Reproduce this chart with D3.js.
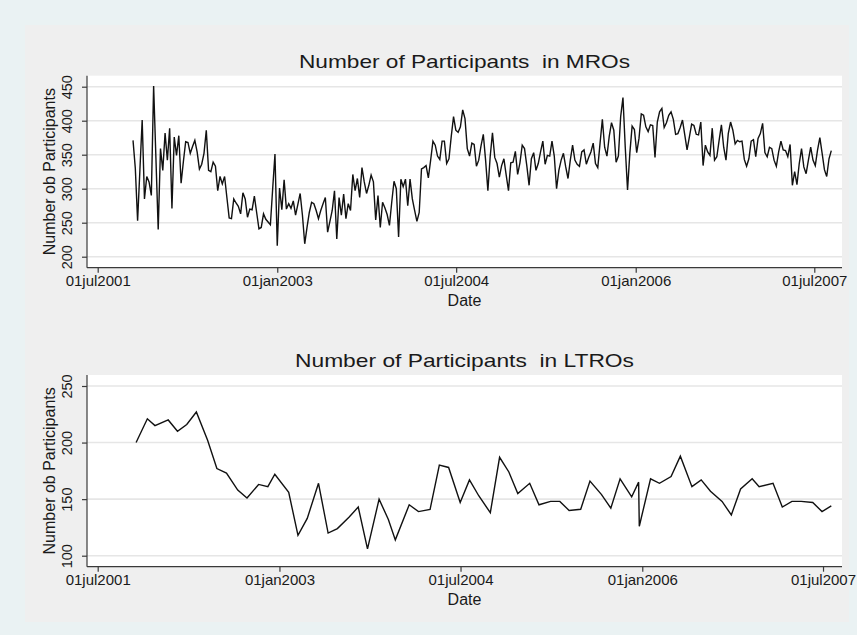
<!DOCTYPE html>
<html>
<head>
<meta charset="utf-8">
<script src="https://cdn.jsdelivr.net/npm/d3@7"></script>
<style>
  html, body { margin: 0; padding: 0; background: #ffffff; }
  svg { display: block; font-family: "Liberation Sans", Arial, Helvetica, sans-serif; }
  text { white-space: pre; }
</style>
</head>
<body>
<svg id="chart" width="857" height="635"></svg>
<script>
// Weekly main refinancing operations: number of bidders, one value per week
const mroFirstDate = "2001-10-17";
const mroValues = [
  371,330,253,327,401,285,318,310,290,451, 345,240,359,327,382,342,389,271,376,349,
  378,308,340,369,368,352,362,371,354,329, 336,352,386,327,325,339,333,297,318,307,
  318,287,257,256,285,279,274,263,294,285, 258,270,269,289,265,241,243,
  263,255,251,247,300,351,216,301,269,313, 270,278,271,282,261,277,293,261,219,243,
  265,280,278,268,256,268,278,287,236,252, 268,297,226,287,261,292,256,278,268,321,
  297,315,287,331,310,293,305,320,310,254, 290,243,280,272,262,246,280,311,300,229,
  314,303,314,275,314,285,268,252,265,329, 331,334,316,342,370,364,348,343,370,370,
  337,344,377,406,386,383,391,416,403,359, 348,367,365,333,342,363,380,342,297,347,
  382,346,337,317,334,344,320,297,338,339, 355,321,338,364,359,334,305,344,353,327,
  337,354,370,336,349,348,370,348,300,327, 342,352,332,315,342,364,342,336,333,354,
  357,336,346,354,367,337,331,367,402,361, 348,377,397,386,339,348,406,434,361,298,
  352,392,387,353,374,410,408,391,384,394, 393,346,398,413,418,390,397,408,413,402,
  380,381,390,401,379,357,376,395,393,380, 379,398,334,364,354,349,389,342,347,371,
  394,361,342,381,398,386,366,371,369,370, 343,333,344,370,372,347,374,381,396,353,
  347,361,359,342,333,354,370,357,356,347, 365,305,325,306,337,359,332,322,342,361,
  342,334,357,375,352,328,318,344,356
];

// Monthly longer-term refinancing operations: allotment dates and number of bidders
const ltroDates = [
  "2001-10-25","2001-11-28","2001-12-21","2002-01-30","2002-02-27","2002-03-27","2002-04-25","2002-05-29","2002-06-26","2002-07-25",
  "2002-08-28","2002-09-25","2002-10-30","2002-11-27","2002-12-18","2003-01-29","2003-02-26","2003-03-26","2003-04-29","2003-05-28",
  "2003-06-25","2003-07-30","2003-08-27","2003-09-24","2003-10-29","2003-11-26","2003-12-17","2004-01-28","2004-02-25","2004-03-31",
  "2004-04-28","2004-05-26","2004-06-30","2004-07-28","2004-08-25","2004-09-29","2004-10-27","2004-11-24","2004-12-21","2005-01-26",
  "2005-02-23","2005-03-30","2005-04-27","2005-05-25","2005-06-29","2005-07-27","2005-08-31","2005-09-28","2005-10-26","2005-11-30",
  "2005-12-21","2005-12-23","2006-01-26","2006-02-22","2006-03-29","2006-04-26","2006-05-31","2006-06-28","2006-07-26","2006-08-30",
  "2006-09-27","2006-10-25","2006-11-29","2006-12-20","2007-01-31","2007-02-28","2007-03-29","2007-04-26","2007-05-31","2007-06-28",
  "2007-07-26"
];
const ltroValues = [
  200,221,215,220,210,216,227,202,177,173,
  158,151,163,161,172,156,118,133,164,120,
  124,134,143,106,150,132,114,145,139,141,
  180,178,147,167,153,138,187,174,155,164,
  145,148,148,140,141,166,154,142,168,152,
  165,126,168,164,170,188,161,167,157,148,
  136,159,168,161,164,143,148,148,147,139,
  144
];

// Axis ticks
const axisStartDate = "2001-07-01";
const xTickDates = ["2001-07-01", "2003-01-01", "2004-07-01", "2006-01-01", "2007-07-01"];
const xTickLabels = ["01jul2001", "01jan2003", "01jul2004", "01jan2006", "01jul2007"];
const mroYTicks = [200, 250, 300, 350, 400, 450];
const ltroYTicks = [100, 150, 200, 250];

const parse = d3.timeParse("%Y-%m-%d");
const mroDates = mroValues.map((v, i) => d3.timeDay.offset(parse(mroFirstDate), 7 * i));

const svg = d3.select("#chart");
const ink = "#1a1a1a";
const axisInk = "#3a3a3a";

// Backgrounds: outer region and the graph region
svg.append("rect").attr("x", 0).attr("y", 0).attr("width", 857).attr("height", 635).attr("fill", "#eaf2f3");
svg.append("rect").attr("x", 25).attr("y", 25).attr("width", 824).attr("height", 597).attr("fill", "#efefef");

const panels = [
  {
    title: "Number of Participants  in MROs", titleWidth: 331,
    dates: mroDates, values: mroValues,
    yDomain: [200, 450], yTicks: mroYTicks,
    box: { left: 87, right: 842, top: 75.7, bottom: 267.7 },
    titleY: 68
  },
  {
    title: "Number of Participants  in LTROs", titleWidth: 339,
    dates: ltroDates.map(parse), values: ltroValues,
    yDomain: [100, 250], yTicks: ltroYTicks,
    box: { left: 87, right: 842, top: 375, bottom: 566.7 },
    titleY: 367
  }
];

const inset = 11;

panels.forEach(p => {
  const b = p.box;
  const g = svg.append("g");

  const x = d3.scaleTime()
    .domain([parse(axisStartDate), d3.max(p.dates)])
    .range([b.left + 10.7, b.right - 10.7]);
  const y = d3.scaleLinear()
    .domain(p.yDomain)
    .range([b.bottom - inset, b.top + inset]);

  // plot region
  g.append("rect")
    .attr("x", b.left).attr("y", b.top)
    .attr("width", b.right - b.left).attr("height", b.bottom - b.top)
    .attr("fill", "#ffffff");

  // horizontal grid lines
  g.append("g").selectAll("line").data(p.yTicks).join("line")
    .attr("x1", b.left).attr("x2", b.right)
    .attr("y1", d => y(d)).attr("y2", d => y(d))
    .attr("stroke", "#e6e6e6").attr("stroke-width", 1.6);

  // series
  const line = d3.line().x((d, i) => x(p.dates[i])).y(d => y(d));
  g.append("path").datum(p.values)
    .attr("d", line)
    .attr("fill", "none")
    .attr("stroke", "#111111")
    .attr("stroke-width", 1.4)
    .attr("stroke-linejoin", "miter");

  // y axis
  const yAxis = d3.axisLeft(y).tickValues(p.yTicks).tickSize(5).tickSizeOuter(0);
  const ya = g.append("g").attr("transform", `translate(${b.left},0)`).call(yAxis);
  ya.attr("font-family", null);
  ya.select(".domain").attr("d", `M0,${b.top}V${b.bottom}`).attr("stroke", axisInk).attr("stroke-width", 1.2);
  ya.selectAll(".tick line").attr("stroke", axisInk).attr("stroke-width", 1.2);
  ya.selectAll(".tick text")
    .attr("x", 0).attr("y", -15).attr("dy", 0)
    .attr("transform", "rotate(-90)")
    .attr("text-anchor", "middle")
    .attr("font-size", 14.5)
    .attr("fill", ink);

  // x axis
  const xAxis = d3.axisBottom(x)
    .tickValues(xTickDates.map(parse))
    .tickFormat((d, i) => xTickLabels[i])
    .tickSize(5).tickSizeOuter(0);
  const xa = g.append("g").attr("transform", `translate(0,${b.bottom})`).call(xAxis);
  xa.attr("font-family", null);
  xa.select(".domain").attr("d", `M${b.left},0H${b.right}`).attr("stroke", axisInk).attr("stroke-width", 1.2);
  xa.selectAll(".tick line").attr("stroke", axisInk).attr("stroke-width", 1.2);
  xa.selectAll(".tick text")
    .attr("y", 18).attr("dy", 0)
    .attr("font-size", 15)
    .attr("fill", ink);

  // axis titles
  g.append("text")
    .attr("x", (b.left + b.right) / 2).attr("y", b.bottom + 38.5)
    .attr("text-anchor", "middle").attr("font-size", 16).attr("fill", ink)
    .text("Date");
  g.append("text")
    .attr("transform", `translate(55,${(b.top + b.bottom) / 2}) rotate(-90)`)
    .attr("text-anchor", "middle").attr("font-size", 16).attr("fill", ink)
    .text("Number ob Participants");

  // panel title
  g.append("text")
    .attr("x", (b.left + b.right) / 2).attr("y", p.titleY)
    .attr("text-anchor", "middle").attr("font-size", 19).attr("fill", ink)
    .attr("textLength", p.titleWidth).attr("lengthAdjust", "spacingAndGlyphs")
    .text(p.title);
});
</script>
</body>
</html>
